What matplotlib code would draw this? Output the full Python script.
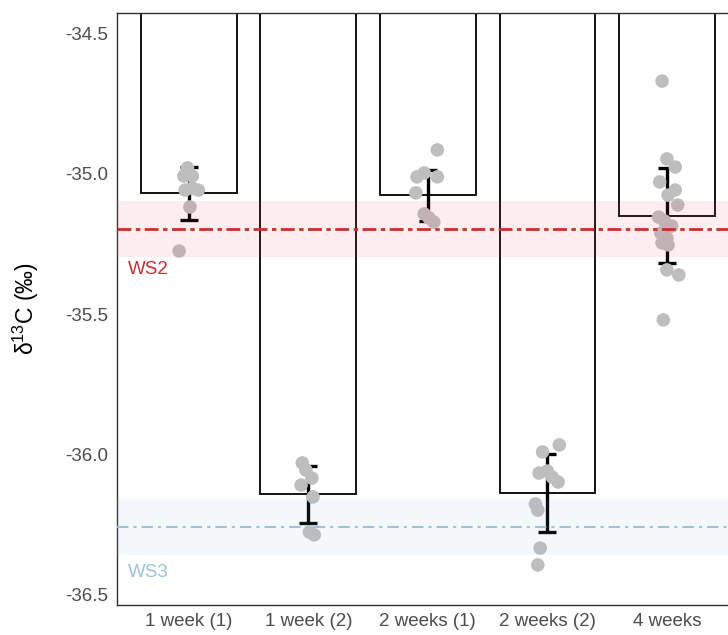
import numpy as np
import matplotlib
matplotlib.use("Agg")
import matplotlib.pyplot as plt

plt.rcParams['font.family'] = ['Liberation Sans', 'DejaVu Sans']
plt.rcParams['mathtext.default'] = 'regular'
plt.rcParams['axes.unicode_minus'] = False

# Sampling periods
groups = ["1 week (1)", "1 week (2)", "2 weeks (1)", "2 weeks (2)", "4 weeks"]

# Group means and error half-widths (per mil)
means = [-35.071, -36.142, -35.078, -36.138, -35.151]
errs = [0.093, 0.102, 0.092, 0.138, 0.169]

# Individual measurements and their horizontal jitter
pts_1w1 = [-34.980, -35.009, -35.009, -35.059, -35.052, -35.059, -35.119, -35.276]
jit_1w1 = [-0.01, -0.04, 0.03, -0.03, 0.03, 0.08, 0.01, -0.08]
pts_1w2 = [-36.030, -36.055, -36.084, -36.109, -36.151, -36.276, -36.286]
jit_1w2 = [-0.05, -0.02, 0.03, -0.06, 0.04, 0.01, 0.05]
pts_2w1 = [-34.916, -34.998, -35.012, -35.012, -35.069, -35.144, -35.158, -35.173]
jit_2w1 = [0.08, -0.03, -0.09, 0.08, -0.10, -0.03, 0.01, 0.05]
pts_2w2 = [-35.966, -35.991, -36.066, -36.059, -36.080, -36.098, -36.176, -36.198, -36.333, -36.393]
jit_2w2 = [0.10, -0.04, -0.07, 0.00, 0.04, 0.09, -0.10, -0.08, -0.06, -0.08]
pts_4w = [-34.671, -34.948, -34.977, -35.030, -35.059, -35.077, -35.112, -35.155, -35.169,
          -35.187, -35.212, -35.230, -35.247, -35.254, -35.343, -35.361, -35.521]
jit_4w = [-0.04, 0.00, 0.07, -0.06, 0.07, 0.01, 0.09, -0.07, -0.02, 0.04, -0.05, 0.00,
          -0.04, 0.01, 0.00, 0.10, -0.03]
points = [pts_1w1, pts_1w2, pts_2w1, pts_2w2, pts_4w]
jitter = [jit_1w1, jit_1w2, jit_2w1, jit_2w2, jit_4w]

# Reference water samples: mean and uncertainty
ws2_mean, ws2_sd = -35.197, 0.10
ws3_mean, ws3_sd = -36.257, 0.10

red = '#c9302c'
blue = '#9cc3d9'

fig = plt.figure(figsize=(7.28, 6.35), dpi=100)
ax = fig.add_axes([117/728, 30/635, 621.6/728, 592/635])

x = np.arange(1, len(groups) + 1)

ax.bar(x, means, width=0.8, color='white', edgecolor='black', linewidth=1.3, zorder=1)
ax.errorbar(x, means, yerr=errs, fmt='none', ecolor='black', elinewidth=2.4,
            capsize=6.5, capthick=2.4, zorder=2)

for i in range(len(groups)):
    xs = x[i] + np.array(jitter[i])
    ax.scatter(xs, points[i], s=95, color='#bebebe', edgecolors='none', zorder=3)

# reference bands and lines
ax.axhspan(ws2_mean - ws2_sd, ws2_mean + ws2_sd, color='#e04848', alpha=0.09, lw=0, zorder=4)
ax.axhline(ws2_mean, color=red, lw=2, linestyle=(0, (5, 1.6, 1.6, 1.6)), zorder=5)
ax.axhspan(ws3_mean - ws3_sd, ws3_mean + ws3_sd, color='#8ab8d4', alpha=0.09, lw=0, zorder=4)
ax.axhline(ws3_mean, color=blue, lw=1.5, linestyle=(0, (5.5, 2.4, 1.5, 2.4)), zorder=5)

ax.text(0.49, -35.343, "WS2", color=red, fontsize=13.5, va='center', ha='left', zorder=6)
ax.text(0.49, -36.42, "WS3", color=blue, fontsize=13.5, va='center', ha='left', zorder=6,
        bbox=dict(facecolor='white', alpha=0.6, edgecolor='none', pad=1.5))

ax.set_xlim(0.4, 5.6)
ax.set_ylim(-36.5356, -34.4288)
ax.set_xticks(x)
ax.set_xticklabels(groups)
ax.set_yticks([-34.5, -35.0, -35.5, -36.0, -36.5])
ax.set_yticklabels(["-34.5", "-35.0", "-35.5", "-36.0", "-36.5"])
ax.tick_params(length=0, labelsize=13.5, labelcolor='#4d4d4d')
ax.tick_params(axis='y', pad=6.5)
ax.tick_params(axis='x', pad=6)
for sp in ax.spines.values():
    sp.set_color('#333333')
    sp.set_linewidth(1.0)

ax.set_ylabel("δ$^{13}$C (‰)", fontsize=16.5, labelpad=17)

fig.savefig("out.png", dpi=100)
